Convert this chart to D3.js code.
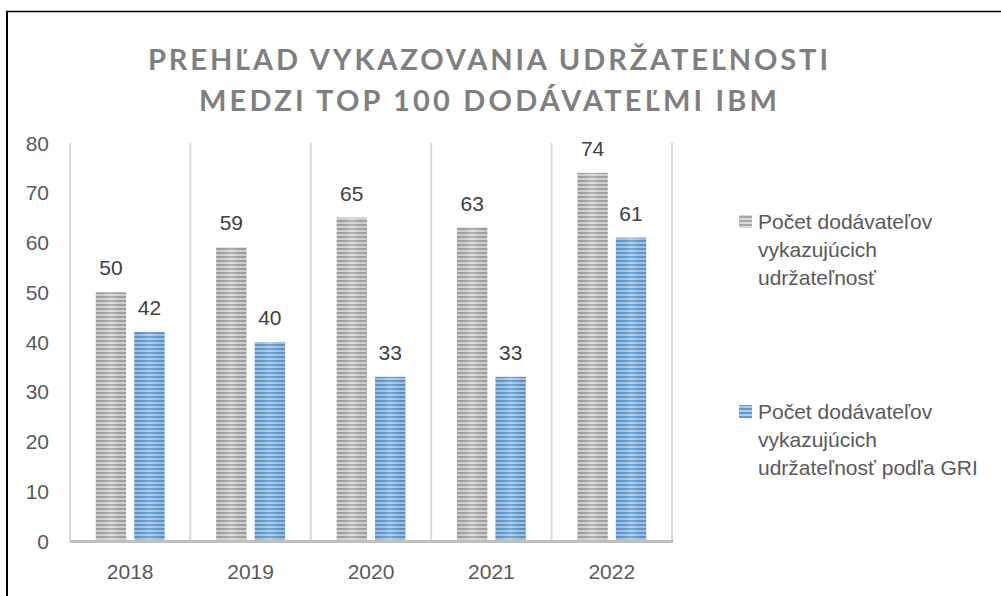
<!DOCTYPE html>
<html><head><meta charset="utf-8">
<script src="https://cdn.jsdelivr.net/npm/d3@7"></script>
<style>
html,body{margin:0;padding:0;background:#fff;}
svg{display:block;font-family:"Liberation Sans",Arial,sans-serif;}
</style></head>
<body><svg id="c" width="1001" height="596"></svg>
<script>
const categories = ["2018","2019","2020","2021","2022"];
const seriesNames = ["Počet dodávateľov vykazujúcich udržateľnosť","Počet dodávateľov vykazujúcich udržateľnosť podľa GRI"];
const suppliersReporting = [50,59,65,63,74];
const suppliersGRI = [42,40,33,33,61];
const yTicks = [0,10,20,30,40,50,60,70,80];
const titleLines = ["PREHĽAD VYKAZOVANIA UDRŽATEĽNOSTI","MEDZI TOP 100 DODÁVATEĽMI IBM"];
const legendLines = [["Počet dodávateľov","vykazujúcich","udržateľnosť"],["Počet dodávateľov","vykazujúcich","udržateľnosť podľa GRI"]];

const svg = d3.select("#c");
const defs = svg.append("defs");
function stripe(id, dark, light){
  const p = defs.append("pattern").attr("id",id).attr("patternUnits","userSpaceOnUse").attr("width",8).attr("height",4);
  p.append("rect").attr("width",8).attr("height",4).attr("fill",light);
  p.append("rect").attr("width",8).attr("height",2).attr("fill",dark);
}
stripe("pg","#a6a6a6","#dadada");
stripe("pb","#5b9bd5","#a8cbee");
const gl = defs.append("linearGradient").attr("id","shine").attr("x1","0").attr("x2","1").attr("y1","0").attr("y2","0");
gl.append("stop").attr("offset","0").attr("stop-color","#000").attr("stop-opacity",0.06);
gl.append("stop").attr("offset","0.5").attr("stop-color","#fff").attr("stop-opacity",0.15);
gl.append("stop").attr("offset","1").attr("stop-color","#000").attr("stop-opacity",0.06);

// frame
svg.append("line").attr("x1",6).attr("x2",1001).attr("y1",11.5).attr("y2",11.5).attr("stroke","#000").attr("stroke-width",1.5);
svg.append("line").attr("x1",7).attr("x2",7).attr("y1",11).attr("y2",596).attr("stroke","#000").attr("stroke-width",2);

// title
const tl = [{w:680,y:70},{w:578,y:111}];
svg.selectAll("text.title").data(titleLines).join("text").attr("class","title")
  .attr("x",488).attr("y",(d,i)=>tl[i].y).attr("text-anchor","middle")
  .attr("textLength",(d,i)=>tl[i].w).attr("lengthAdjust","spacing")
  .style("font-family","Lato, 'Liberation Sans', sans-serif")
  .attr("font-size",29).attr("font-weight","bold").attr("fill","#7f7f7f").text(d=>d);

const x0 = d3.scaleBand().domain(categories).range([70,672]).padding(0);
const x1 = d3.scaleBand().domain([0,1]).range([0,x0.bandwidth()]).paddingInner(0.21).paddingOuter(0.67);
const y = d3.scaleLinear().domain([0,80]).range([541,143]);

// vertical grid lines at category boundaries
const bounds = categories.map(c=>x0(c)).concat([x0.range()[1]]);
svg.selectAll("line.grid").data(bounds).join("line").attr("class","grid")
  .attr("x1",d=>d).attr("x2",d=>d).attr("y1",y(80)).attr("y2",y(0)).attr("stroke","#d9d9d9").attr("stroke-width",2);

// y axis labels
svg.selectAll("text.yt").data(yTicks).join("text").attr("class","yt")
  .attr("x",49).attr("y",d=>y(d)+7.5).attr("text-anchor","end").attr("font-size",21).attr("fill","#595959").text(d=>d);

const series = [suppliersReporting, suppliersGRI];
const fills = ["url(#pg)","url(#pb)"];
series.forEach((vals,si)=>{
  const g = svg.append("g");
  const data = categories.map((c,i)=>({c,v:vals[i]}));
  g.selectAll("rect.bar").data(data).join("rect").attr("class","bar")
    .attr("x",d=>x0(d.c)+x1(si)).attr("width",x1.bandwidth())
    .attr("y",d=>y(d.v)).attr("height",d=>y(0)-y(d.v)).attr("fill",fills[si]);
  g.selectAll("rect.sh").data(data).join("rect").attr("class","sh")
    .attr("x",d=>x0(d.c)+x1(si)).attr("width",x1.bandwidth())
    .attr("y",d=>y(d.v)).attr("height",d=>y(0)-y(d.v)).attr("fill","url(#shine)");
  g.selectAll("text").data(data).join("text")
    .attr("x",d=>x0(d.c)+x1(si)+x1.bandwidth()/2).attr("y",d=>y(d.v)-17)
    .attr("text-anchor","middle").attr("font-size",21).attr("fill","#404040").text(d=>d.v);
});

// baseline
svg.append("line").attr("x1",70).attr("x2",673).attr("y1",y(0)+0.5).attr("y2",y(0)+0.5).attr("stroke","#bfbfbf").attr("stroke-width",3);

// x labels
svg.selectAll("text.xt").data(categories).join("text").attr("class","xt")
  .attr("x",d=>x0(d)+x0.bandwidth()/2).attr("y",579).attr("text-anchor","middle")
  .attr("font-size",21).attr("fill","#595959").text(d=>d);

// legend
const legY = [222,412];
legendLines.forEach((lines,li)=>{
  const g = svg.append("g");
  g.append("rect").attr("x",739).attr("y",legY[li]-7).attr("width",13).attr("height",13).attr("fill",fills[li]);
  g.selectAll("text").data(lines).join("text").attr("x",758).attr("y",(d,i)=>legY[li]+7+i*28)
    .attr("font-size",21).attr("fill","#595959").text(d=>d);
});
</script></body></html>
